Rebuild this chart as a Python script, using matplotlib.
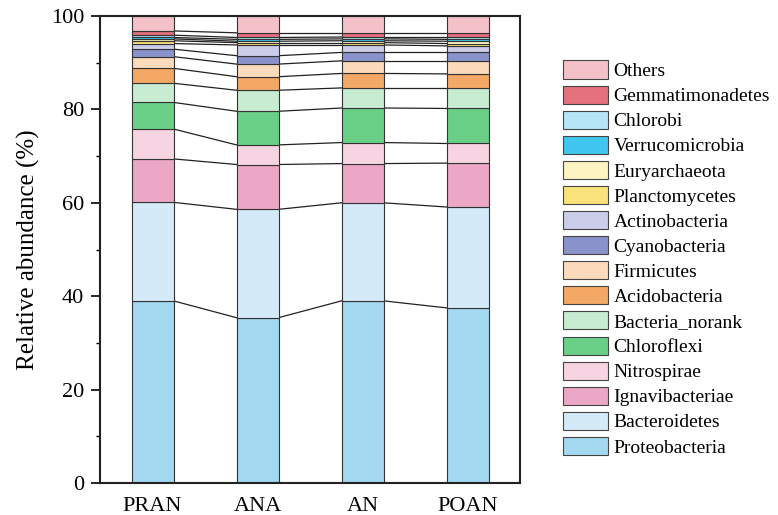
import matplotlib
matplotlib.use("Agg")
import matplotlib.pyplot as plt
import numpy as np
from matplotlib.patches import Patch

samples = ["PRAN", "ANA", "AN", "POAN"]
taxa = ["Proteobacteria", "Bacteroidetes", "Ignavibacteriae", "Nitrospirae",
        "Chloroflexi", "Bacteria_norank", "Acidobacteria", "Firmicutes",
        "Cyanobacteria", "Actinobacteria", "Planctomycetes", "Euryarchaeota",
        "Verrucomicrobia", "Chlorobi", "Gemmatimonadetes", "Others"]

# cumulative tops (%), converted into layer values below
cum_PRAN = [39.0, 60.1, 69.4, 75.8, 81.5, 85.6, 88.8, 91.3, 92.9, 94.1, 94.7, 95.1, 95.4, 95.9, 96.8, 100.0]
cum_ANA  = [35.4, 58.6, 68.2, 72.4, 79.6, 84.1, 87.0, 89.7, 91.5, 93.8, 94.3, 94.6, 95.0, 95.4, 96.4, 100.0]
cum_AN   = [39.0, 60.0, 68.4, 72.9, 80.3, 84.6, 87.7, 90.4, 92.2, 93.8, 94.3, 94.7, 95.1, 95.5, 96.4, 100.0]
cum_POAN = [37.5, 59.1, 68.5, 72.7, 80.2, 84.6, 87.6, 90.4, 92.2, 93.6, 94.1, 94.6, 95.0, 95.5, 96.4, 100.0]

colors = ["#A3D8F1", "#D4EAF8", "#EBA7C5", "#F7D4E1", "#6BD087", "#C7ECD1",
          "#F3A865", "#FCDABC", "#8A92CB", "#CBCDE9", "#FAE27A", "#FDF4C2",
          "#3FC7EF", "#B5E6F8", "#E4717D", "#F3C1C7"]

plt.rcParams['font.family'] = ['Liberation Serif', 'DejaVu Serif']

cum = np.array([cum_PRAN, cum_ANA, cum_AN, cum_POAN])
vals = np.diff(np.hstack([np.zeros((4, 1)), cum]), axis=1)

fig = plt.figure(figsize=(7.78, 5.15), dpi=100)
ax = fig.add_axes([100/778, 1-483/515, 420/778, 467/515])

x = np.arange(len(samples))
w = 0.4
bottom = np.zeros(len(samples))
for j, t in enumerate(taxa):
    ax.bar(x, vals[:, j], w, bottom=bottom, color=colors[j],
           edgecolor="#333333", linewidth=0.8, zorder=2)
    bottom += vals[:, j]

# connecting lines
for j in range(len(taxa) - 1):
    for i in range(len(samples) - 1):
        ax.plot([x[i] + w/2, x[i+1] - w/2], [cum[i, j], cum[i+1, j]],
                color="#222222", lw=0.9, zorder=1)

ax.set_xlim(-0.5, 3.5)
ax.set_ylim(0, 100)
ax.set_xticks(x)
ax.set_xticklabels(samples, fontsize=16)
ax.tick_params(axis='x', length=0, pad=10)
ax.set_yticks([0, 20, 40, 60, 80, 100])
ax.set_yticks([10, 30, 50, 70, 90], minor=True)
ax.tick_params(axis='y', which='major', length=6.5, width=1.2, direction='out',
               labelsize=16, pad=5)
ax.tick_params(axis='y', which='minor', length=3, width=1.0, direction='out')
ax.set_ylabel("Relative abundance (%)", fontsize=18, labelpad=8)
for s in ax.spines.values():
    s.set_linewidth(1.5)
    s.set_color("#222222")

handles = [Patch(facecolor=colors[j], edgecolor="#444444", linewidth=0.8, label=taxa[j])
           for j in range(len(taxa) - 1, -1, -1)]
fig.legend(handles=handles, loc="center left", bbox_to_anchor=(563/778, 0.498),
           frameon=False, fontsize=14, handlelength=2.3, handleheight=1.05,
           labelspacing=0.28, handletextpad=0.3, borderpad=0, borderaxespad=0)

fig.savefig("out.png", dpi=100)
